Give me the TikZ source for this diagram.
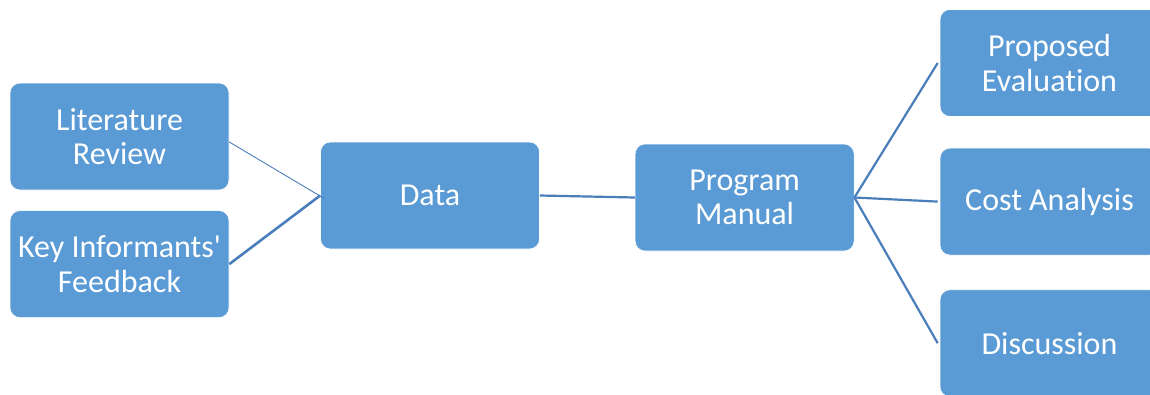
\documentclass[tikz,border=0pt]{standalone}
\usepackage{fontspec}
\setmainfont{Carlito}[Ligatures={TeXOff,NoCommon}]
\usepackage{tikz}
\usetikzlibrary{positioning}
\definecolor{boxblue}{HTML}{5B9BD5}
\definecolor{linkblue}{HTML}{4A7EBB}

\begin{document}
\begin{tikzpicture}[x=1pt,y=-1pt,
   blk/.style={fill=boxblue,draw=white,line width=0.6pt,rounded corners=10pt,minimum width=219pt,minimum height=107pt,
     align=center,inner sep=0pt,text=white,font=\fontsize{32}{34.5}\selectfont},
   link/.style={draw=linkblue,line width=2.2pt}]
  \clip (0,0) rectangle (1150,394);
  \useasboundingbox (0,0) rectangle (1150,394);
  % sources on the left
  \node[blk] (lit) at (119.5,136.5) {Literature\\Review};
  \node[blk,below=20pt of lit] (feed) {Key Informants'\\Feedback};
  % middle chain
  \node[blk] (data) at (430,195.5) {Data};
  \node[blk,right=95pt of data.east,anchor=west,yshift=-2pt] (prog) {Program\\Manual};
  % outputs on the right
  \node[blk] (eval) at (1049.5,63) {Proposed\\Evaluation};
  \node[blk,below=31pt of eval] (cost) {Cost Analysis};
  \node[blk,below=34pt of cost] (disc) {Discussion};
  \draw[link,line width=0.9pt] ([yshift=-5.5pt]lit.east) -- ([xshift=4pt,yshift=-3pt]data.west);
  \draw[link,line width=2.6pt] (feed.east) -- (data.west);
  \draw[link] (data.east) -- (prog.west);
  \foreach \b in {eval,cost,disc}{\draw[link] (prog.east) -- ([xshift=-2pt]\b.west);}
\end{tikzpicture}
\end{document}
